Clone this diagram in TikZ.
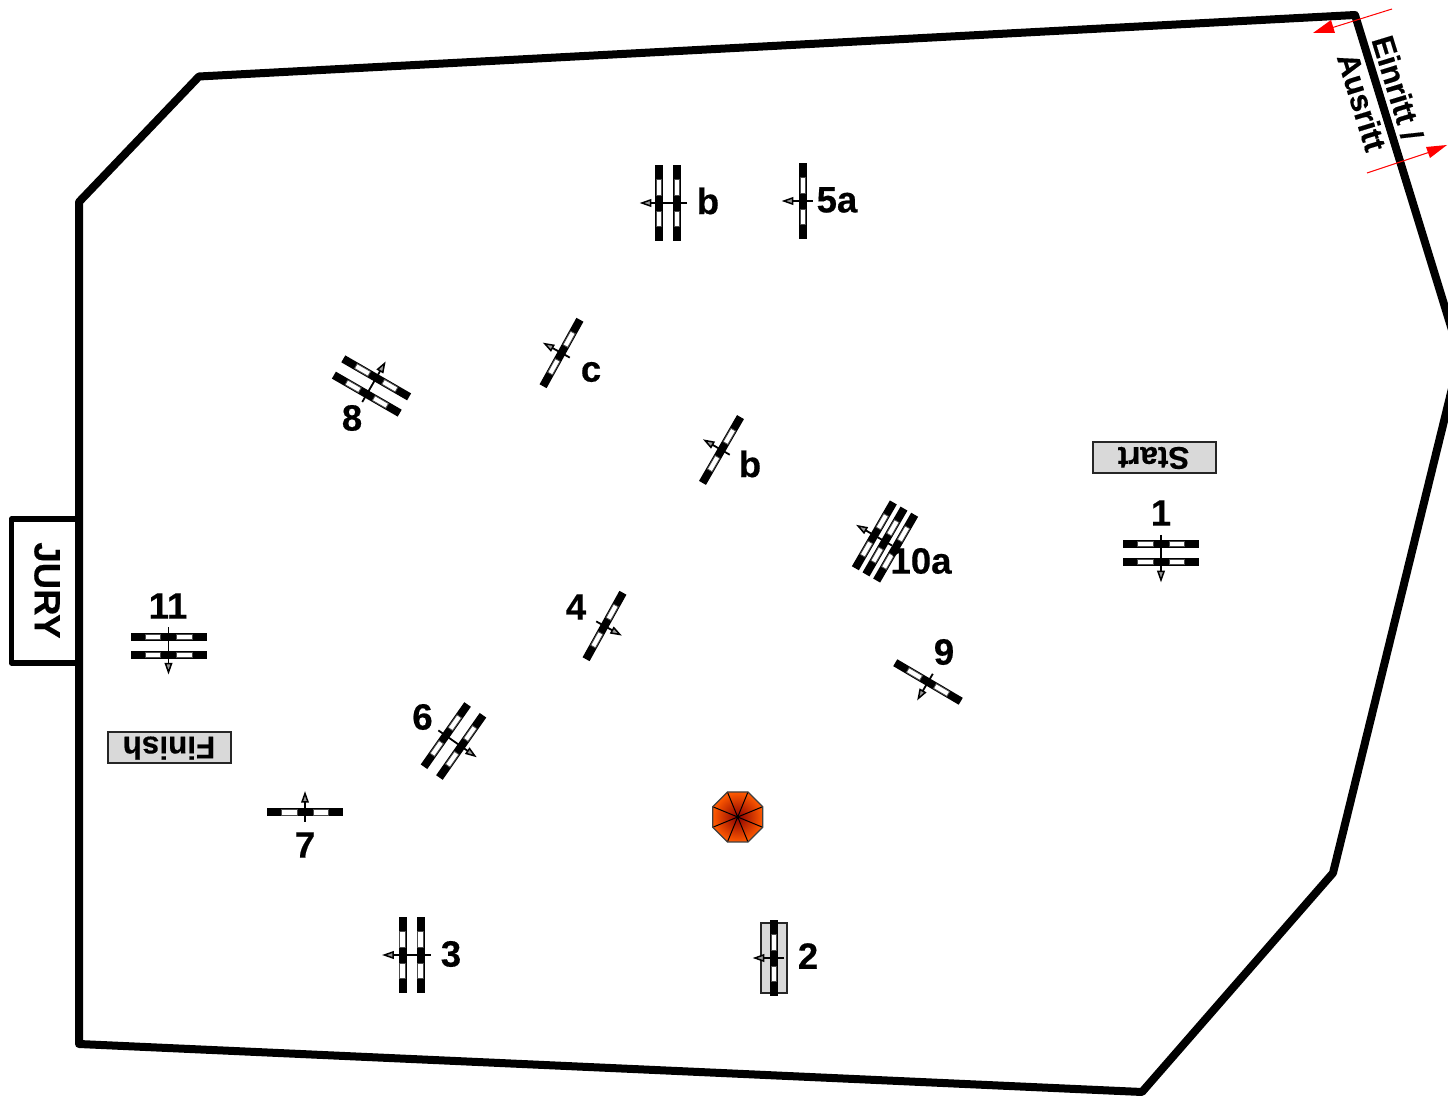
\documentclass[tikz,border=0pt]{standalone}
\usepackage{fontspec}
\setmainfont[BoldFeatures={FakeBold=0.4}]{Liberation Sans}
\usetikzlibrary{calc}
\tikzset{
  wall/.style={line width=4pt,line join=round,line cap=round},
  lab/.style={font=\fontsize{18.3}{20}\selectfont\bfseries,inner sep=0pt},
  wallab/.style={font=\fontsize{15.6}{17}\selectfont\bfseries,inner sep=0pt},
  sign/.style={draw=black!85,fill=black!15,line width=.8pt},
  signtext/.style={font=\fontsize{15.7}{17}\selectfont\bfseries,inner sep=0pt,rotate=180},
  redline/.style={draw=red,line width=.5pt},
  redhead/.style={fill=red,draw=none},
  shaft/.style={draw=black,line width=.9pt},
  ahead/.style={draw=black,fill=black!40,line width=.75pt,line join=miter},
  spoke/.style={draw=black,line width=.5pt}
}
% x, y, rotation, pole offsets, shaft back, shaft front
\newcommand{\obstacle}[6]{%
  \begin{scope}[shift={(#1,#2)},rotate=#3]
    \foreach \o in {#4}{%
      \fill[black] (-38,\o-4) rectangle (38,\o+4);
      \filldraw[fill=white,draw=black!70,line width=.4pt] (-23.5,\o-2.7) rectangle (-8,\o+2.7);
      \filldraw[fill=white,draw=black!70,line width=.4pt] (8,\o-2.7) rectangle (23.5,\o+2.7);
    }
    \draw[shaft] (0,#5) -- (0,#6-6);
    \filldraw[ahead] (0,#6) -- (-3,#6-8.5) -- (3,#6-8.5) -- cycle;
  \end{scope}%
}
\begin{document}
\begin{tikzpicture}[x=.5pt,y=-.5pt]
\useasboundingbox (0,0) rectangle (1448,1096);
\clip (0,0) rectangle (1448,1096);
\fill[white] (0,0) rectangle (1448,1096);

% arena
\draw[wall] (79,202) -- (199,76.5) -- (1355,15) -- (1460,356) -- (1333,873) -- (1142,1092) -- (79,1044) -- cycle;
\draw[line width=2.8pt,line join=round] (79,519) -- (11.5,519) -- (11.5,663) -- (79,663);
\node[lab,rotate=-90] (jury) at (47,590.5) {JURY};

% gate
\node[wallab,rotate=-73] (einritt) at (1397.5,88) {Einritt /};
\node[wallab,rotate=-73] (ausritt) at (1362,102) {Ausritt};
\coordinate (r1a) at (1392,9);
\coordinate (r1b) at (1328,29);
\coordinate (r2a) at (1367,173);
\coordinate (r2b) at (1430,152);
\draw[redline] (r1a) -- (r1b);
\draw[redline] (r2a) -- (r2b);
\fill[redhead] (1313,33) -- (1331,20) -- (1335,33) -- cycle;
\fill[redhead] (1447,145) -- (1426,147) -- (1430,158) -- cycle;

% signs
\filldraw[sign] (1093,442) rectangle (1216,473);
\node[signtext] (start) at (1153.5,458) {Start};
\filldraw[sign] (108,732) rectangle (231,763);
\node[signtext] (finish) at (169,748) {Finish};

% grey base under 2
\filldraw[sign] (761,923) rectangle (787,993);

% obstacles
\obstacle{1161}{553}{0}{-9,9}{-18}{27}
\obstacle{168.5}{645.7}{0}{-9,9}{-18.5}{26.5}
\obstacle{668}{203}{-90}{-9,9}{-19}{26}
\obstacle{803}{201}{-90}{0}{-9.5}{19}
\obstacle{561.5}{353}{-119}{0}{-9.5}{19}
\obstacle{721.5}{450}{-120}{0}{-9.5}{19}
\obstacle{604.5}{626}{61}{0}{-9.5}{17.5}
\obstacle{928}{682}{-30.5}{0}{-9.5}{19}
\obstacle{371.5}{386}{150}{-9.4,9.4}{-18.5}{26}
\obstacle{453.5}{741}{55}{-9.4,9.4}{-18.5}{26}
\obstacle{305}{812.5}{180}{0}{-9.5}{19}
\obstacle{411.5}{955}{-90}{-9,9}{-19}{27}
\obstacle{774}{958}{-90}{0}{-10}{19}
\obstacle{885}{541.5}{-120}{-12.3,0,12.3}{-8}{31}

% parasol
\begin{scope}[shift={(737.7,817)}]
  \shade[inner color=black!10!red!60!black,outer color=orange!70!red] (-25,-10.3) -- (-10.3,-25) -- (10.3,-25) -- (25,-10.3) -- (25,10.3) -- (10.3,25) -- (-10.3,25) -- (-25,10.3) -- cycle;
  \draw[spoke] (-25,-10.3) -- (25,10.3) (-10.3,-25) -- (10.3,25) (10.3,-25) -- (-10.3,25) (25,-10.3) -- (-25,10.3);
  \draw[black!75,line width=.6pt] (-25,-10.3) -- (-10.3,-25) -- (10.3,-25) -- (25,-10.3) -- (25,10.3) -- (10.3,25) -- (-10.3,25) -- (-25,10.3) -- cycle;
\end{scope}

% labels
\node[lab] (l11) at (168,606) {11};
\node[lab] (l1) at (1161,513) {1};
\node[lab] (lb1) at (708,201) {b};
\node[lab] (l5a) at (837,200) {5a};
\node[lab] (lc) at (591,372) {c};
\node[lab] (l8) at (352,418) {8};
\node[lab] (lb2) at (750,464) {b};
\node[lab] (l10a) at (921,561) {10a};
\node[lab] (l4) at (576,607) {4};
\node[lab] (l9) at (944,652) {9};
\node[lab] (l6) at (422.5,717) {6};
\node[lab] (l7) at (305,845) {7};
\node[lab] (l3) at (451,954) {3};
\node[lab] (l2) at (808,956) {2};
\end{tikzpicture}
\end{document}
